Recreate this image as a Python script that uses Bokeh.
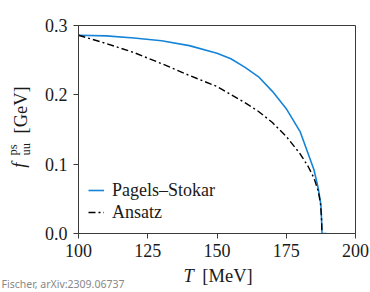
import numpy as np
from bokeh.plotting import figure
from bokeh.models import Range1d, FixedTicker, PrintfTickFormatter, Legend, LegendItem, Label
from bokeh.embed import file_html
from bokeh.resources import INLINE

# Data
T_ps = [100, 110, 120, 130, 140, 150, 155, 160, 165, 170, 175, 180, 185, 186.5, 187.5, 187.8, 187.9, 189.5]
f_ps = [0.286, 0.285, 0.282, 0.278, 0.271, 0.260, 0.252, 0.240, 0.226, 0.205, 0.180, 0.147, 0.092, 0.066, 0.042, 0.015, 0.0, 0.0]

T_an = [100, 110, 120, 130, 140, 150, 160, 165, 170, 175, 180, 183, 185, 186.5, 187.3, 187.7, 187.9]
f_an = [0.286, 0.274, 0.261, 0.245, 0.228, 0.212, 0.189, 0.176, 0.160, 0.140, 0.115, 0.096, 0.080, 0.062, 0.045, 0.025, 0.0]

x_ticks = [100, 125, 150, 175, 200]
y_ticks = [0.0, 0.1, 0.2, 0.3]

FONT = "Liberation Serif"
FS = "18px"
AX = "#3a3a3a"
TXT = "#1a1a1a"

# frame: 277 x 208 px; outer panels are made wide enough for all texts,
# and the surplus is shifted out of view with a negative margin
LEFT, TOP, RIGHT, BOTTOM = 140, 90, 15, 59
p = figure(width=LEFT + 277 + RIGHT, height=TOP + 208 + BOTTOM,
           output_backend="svg", toolbar_location=None,
           x_range=Range1d(100, 200), y_range=Range1d(0, 0.3),
           min_border_left=LEFT, min_border_right=RIGHT,
           min_border_top=TOP, min_border_bottom=BOTTOM)
p.margin = (-(TOP - 25), 0, 0, -(LEFT - 78))
p.xgrid.visible = False
p.ygrid.visible = False
p.outline_line_color = AX
p.outline_line_width = 1
p.background_fill_color = "white"
p.border_fill_color = "white"

for ax in (p.xaxis[0], p.yaxis[0]):
    ax.major_label_text_font = FONT
    ax.major_label_text_font_size = FS
    ax.major_label_text_color = TXT
    ax.axis_line_color = AX
    ax.major_tick_line_color = AX
    ax.major_tick_out = 5
    ax.major_tick_in = 0
    ax.minor_tick_line_color = None
p.xaxis[0].major_label_standoff = 5
p.yaxis[0].major_label_standoff = 6
p.xaxis[0].ticker = FixedTicker(ticks=x_ticks)
p.yaxis[0].ticker = FixedTicker(ticks=y_ticks)
p.yaxis[0].formatter = PrintfTickFormatter(format="%.1f")

r1 = p.line(T_ps, f_ps, line_color="#1584d8", line_width=1.6)
r2 = p.line(T_an, f_an, line_color="black", line_width=1.4, line_dash="7 3 2 3")

leg = Legend(items=[LegendItem(label="Pagels–Stokar", renderers=[r1]),
                    LegendItem(label="Ansatz", renderers=[r2])],
             location=(10, 10), padding=0, margin=0, spacing=0,
             label_height=22, glyph_height=22, glyph_width=16, label_standoff=8,
             label_text_font=FONT, label_text_font_size=FS, label_text_color=TXT,
             border_line_color=None, background_fill_alpha=0)
p.add_layout(leg, "center")

# y axis label pieces (rotated)
PI2 = np.pi / 2
def ylab(x, y, text, size, style="normal"):
    p.add_layout(Label(x=x, y=y, text=text, angle=PI2, text_font=FONT, text_font_style=style,
                       text_font_size=size, text_align="left", text_baseline="middle",
                       text_color=TXT), "left")
ylab(78.5, 0.0950, "f", "18.5px", "italic")
ylab(76.3, 0.1125, "ps", "12.5px")
ylab(80.9, 0.1125, "uu", "12.5px")
ylab(79.2, 0.1442, "[GeV]", "18.5px")

# x axis label pieces
def xlab(x, y, text, size, style="normal", font=FONT, color=TXT, baseline="middle"):
    p.add_layout(Label(x=x, y=y, text=text, text_font=font, text_font_style=style,
                       text_font_size=size, text_align="left", text_baseline=baseline,
                       text_color=color), "above")
xlab(137.9, -0.0606, "T", "18.5px", "italic")
xlab(144.7, -0.0606, "[MeV]", "18.5px")

# watermark (kept fully inside the picture)
xlab(72.2, -0.0834, "Fischer, arXiv:2309.06737", "10.5px", font="Noto Sans",
     color="#888888", baseline="bottom")

open("out.html", "w").write(file_html(p, INLINE))
